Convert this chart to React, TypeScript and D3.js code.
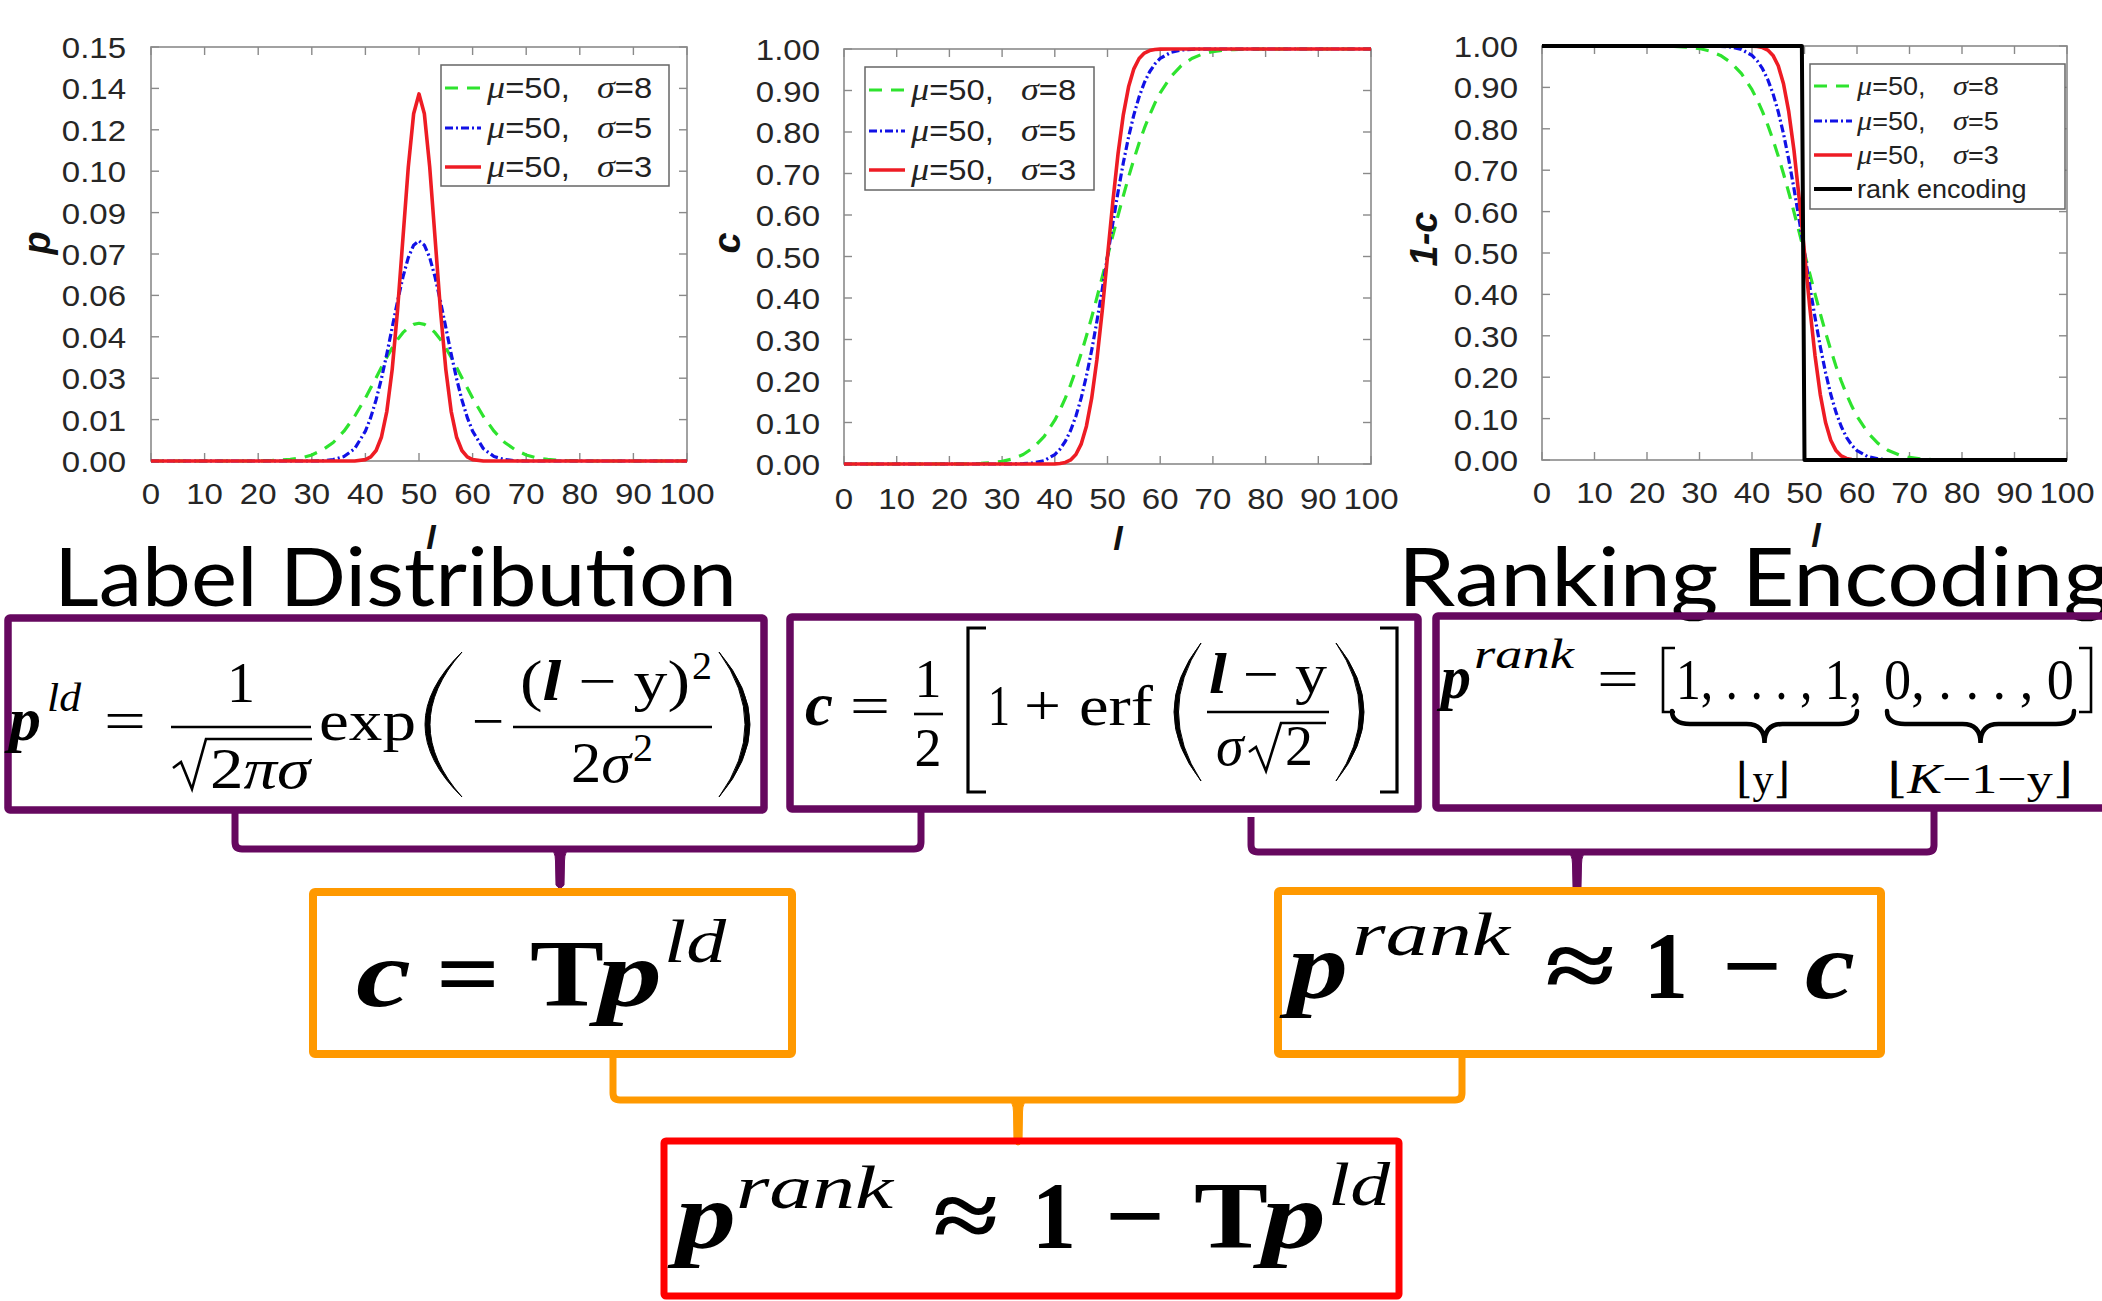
import React from 'react';
import * as d3 from 'd3';

// ---------- DATA ----------
const L = [0, 10, 20, 22, 24, 26, 28, 30, 32, 34, 36, 38, 40, 41, 42, 43, 44, 45, 46, 47, 48, 49, 50, 51, 52, 53, 54, 55, 56, 57, 58, 59, 60, 62, 64, 66, 68, 70, 72, 74, 76, 78, 80, 90, 100];

const pdfSigma8 = [0, 0, 0, 0.0001, 0.0003, 0.0006, 0.0011, 0.0022, 0.0040, 0.0067, 0.0108, 0.0162,
  0.0228, 0.0265, 0.0302, 0.0340, 0.0376, 0.0410, 0.0440, 0.0465, 0.0483, 0.0495, 0.0499, 0.0495, 0.0483, 0.0465, 0.0440, 0.0410, 0.0376, 0.0340, 0.0302, 0.0265, 0.0228,
  0.0162, 0.0108, 0.0067, 0.0040, 0.0022, 0.0011, 0.0006, 0.0003, 0.0001, 0, 0, 0];
const pdfSigma5 = [0, 0, 0, 0, 0, 0, 0, 0, 0.0001, 0.0005, 0.0016, 0.0045,
  0.0108, 0.0158, 0.0222, 0.0299, 0.0388, 0.0484, 0.0579, 0.0666, 0.0737, 0.0782, 0.0798, 0.0782, 0.0737, 0.0666, 0.0579, 0.0484, 0.0388, 0.0299, 0.0222, 0.0158, 0.0108,
  0.0045, 0.0016, 0.0005, 0.0001, 0, 0, 0, 0, 0, 0, 0, 0];
const pdfSigma3 = [0, 0, 0, 0, 0, 0, 0, 0, 0, 0, 0, 0,
  0.0005, 0.0015, 0.0038, 0.0087, 0.0180, 0.0332, 0.0547, 0.0807, 0.1065, 0.1258, 0.1330, 0.1258, 0.1065, 0.0807, 0.0547, 0.0332, 0.0180, 0.0087, 0.0038, 0.0015, 0.0005,
  0, 0, 0, 0, 0, 0, 0, 0, 0, 0, 0, 0];

const cdfSigma8 = [0, 0, 0.0001, 0.0002, 0.0006, 0.0013, 0.0030, 0.0062, 0.0122, 0.0228, 0.0401, 0.0668,
  0.1056, 0.1303, 0.1587, 0.1908, 0.2266, 0.2660, 0.3085, 0.3538, 0.4013, 0.4503, 0.5, 0.5497, 0.5987, 0.6462, 0.6915, 0.7340, 0.7734, 0.8092, 0.8413, 0.8697, 0.8944,
  0.9332, 0.9599, 0.9772, 0.9878, 0.9938, 0.9970, 0.9987, 0.9994, 0.9998, 0.9999, 1, 1];
const cdfSigma5 = [0, 0, 0, 0, 0, 0, 0, 0, 0.0002, 0.0007, 0.0026, 0.0082,
  0.0228, 0.0359, 0.0548, 0.0808, 0.1151, 0.1587, 0.2119, 0.2743, 0.3446, 0.4207, 0.5, 0.5793, 0.6554, 0.7257, 0.7881, 0.8413, 0.8849, 0.9192, 0.9452, 0.9641, 0.9772,
  0.9918, 0.9974, 0.9993, 0.9998, 1, 1, 1, 1, 1, 1, 1, 1];
const cdfSigma3 = [0, 0, 0, 0, 0, 0, 0, 0, 0, 0, 0, 0,
  0.0004, 0.0013, 0.0038, 0.0098, 0.0228, 0.0478, 0.0912, 0.1587, 0.2525, 0.3694, 0.5, 0.6306, 0.7475, 0.8413, 0.9088, 0.9522, 0.9772, 0.9902, 0.9962, 0.9987, 0.9996,
  1, 1, 1, 1, 1, 1, 1, 1, 1, 1, 1, 1];

const ccdfSigma8 = [1, 1, 0.9999, 0.9998, 0.9994, 0.9987, 0.9970, 0.9938, 0.9878, 0.9772, 0.9599, 0.9332,
  0.8944, 0.8697, 0.8413, 0.8092, 0.7734, 0.7340, 0.6915, 0.6462, 0.5987, 0.5497, 0.5, 0.4503, 0.4013, 0.3538, 0.3085, 0.2660, 0.2266, 0.1908, 0.1587, 0.1303, 0.1056,
  0.0668, 0.0401, 0.0228, 0.0122, 0.0062, 0.0030, 0.0013, 0.0006, 0.0002, 0.0001, 0, 0];
const ccdfSigma5 = [1, 1, 1, 1, 1, 1, 1, 1, 0.9998, 0.9993, 0.9974, 0.9918,
  0.9772, 0.9641, 0.9452, 0.9192, 0.8849, 0.8413, 0.7881, 0.7257, 0.6554, 0.5793, 0.5, 0.4207, 0.3446, 0.2743, 0.2119, 0.1587, 0.1151, 0.0808, 0.0548, 0.0359, 0.0228,
  0.0082, 0.0026, 0.0007, 0.0002, 0, 0, 0, 0, 0, 0, 0, 0];
const ccdfSigma3 = [1, 1, 1, 1, 1, 1, 1, 1, 1, 1, 1, 1,
  0.9996, 0.9987, 0.9962, 0.9902, 0.9772, 0.9522, 0.9088, 0.8413, 0.7475, 0.6306, 0.5, 0.3694, 0.2525, 0.1587, 0.0912, 0.0478, 0.0228, 0.0098, 0.0038, 0.0013, 0.0004,
  0, 0, 0, 0, 0, 0, 0, 0, 0, 0, 0, 0];

const rankL = [0, 49.5, 50, 100];
const rankV = [1, 1, 0, 0];

const X_TICKS = [0, 10, 20, 30, 40, 50, 60, 70, 80, 90, 100];
const PDF_TICKS = [0, 0.015, 0.03, 0.045, 0.06, 0.075, 0.09, 0.105, 0.12, 0.135, 0.15];
const PDF_TICK_LABELS = ['0.00', '0.01', '0.03', '0.04', '0.06', '0.07', '0.09', '0.10', '0.12', '0.14', '0.15'];
const CDF_TICKS = [0, 0.1, 0.2, 0.3, 0.4, 0.5, 0.6, 0.7, 0.8, 0.9, 1.0];
const CDF_TICK_LABELS = ['0.00', '0.10', '0.20', '0.30', '0.40', '0.50', '0.60', '0.70', '0.80', '0.90', '1.00'];
const MU_LABEL = '50';
const SIGMA_LABELS = ['8', '5', '3'];
const RANK_LABEL = 'rank encoding';

// ---------- STYLE ----------
const SANS = "'Liberation Sans', Arial, Helvetica, sans-serif";
const SERIF = "'Liberation Serif', 'Times New Roman', 'DejaVu Serif', serif";
const SX = 1.1;
const PURPLE = '#66085f';
const ORANGE = '#ff9900';
const RED_BOX = '#ff0000';
const STYLES = [
  { color: '#2ee32e', dash: '13,9', width: 3.2 },
  { color: '#1111e6', dash: '8,3,2,3', width: 3.2 },
  { color: '#ee1c24', dash: null, width: 3.6 },
];
const BLACK_STYLE = { color: '#000', dash: null, width: 4 };

function zip(xs, ys) { return xs.map((v, i) => [v, ys[i]]); }

function Chart(p) {
  const x = d3.scaleLinear().domain([0, 100]).range([p.x0, p.x1]);
  const y = d3.scaleLinear().domain([0, p.yMax]).range([p.y1, p.y0]);
  const line = d3.line().x(d => x(d[0])).y(d => y(d[1]));
  const fc = '#8a8a8a';
  const lg = p.legend;
  const fs = lg.fs;
  return (
    <g>
      <rect x={p.x0} y={p.y0} width={p.x1 - p.x0} height={p.y1 - p.y0} fill="#fff" stroke={fc} strokeWidth={1.6} />
      {X_TICKS.map(t => (
        <g key={'x' + t}>
          <line x1={x(t)} x2={x(t)} y1={p.y1} y2={p.y1 - 8} stroke={fc} strokeWidth={1.4} />
          <line x1={x(t)} x2={x(t)} y1={p.y0} y2={p.y0 + 8} stroke={fc} strokeWidth={1.4} />
          <text transform={`translate(${x(t)},${p.xTickBase}) scale(${SX},1)`} textAnchor="middle" fontFamily={SANS} fontSize={30} fill="#262626">{t}</text>
        </g>
      ))}
      {p.yTicks.map((t, i) => (
        <g key={'y' + i}>
          <line x1={p.x0} x2={p.x0 + 8} y1={y(t)} y2={y(t)} stroke={fc} strokeWidth={1.4} />
          <line x1={p.x1} x2={p.x1 - 8} y1={y(t)} y2={y(t)} stroke={fc} strokeWidth={1.4} />
          <text transform={`translate(${p.yTickRight},${y(t) + 11}) scale(${SX},1)`} textAnchor="end" fontFamily={SANS} fontSize={30} fill="#262626">{p.yTickLabels[i]}</text>
        </g>
      ))}
      {p.series.map((s, i) => (
        <path key={'s' + i} d={line(zip(s.xs, s.vals))} fill="none" stroke={s.style.color} strokeWidth={s.style.width}
          strokeDasharray={s.style.dash || undefined} strokeLinejoin="round" />
      ))}
      <rect x={lg.x} y={lg.y} width={lg.w} height={lg.h} fill="#fff" stroke="#666" strokeWidth={1.5} />
      {p.series.map((s, i) => {
        const ry = lg.rows[i];
        const by = ry + fs * 0.36;
        return (
          <g key={'l' + i}>
            <line x1={lg.sx0} x2={lg.sx1} y1={ry} y2={ry} stroke={s.style.color} strokeWidth={s.style.width} strokeDasharray={s.style.dash || undefined} />
            {s.sigma ? (
              <g>
                <text transform={`translate(${lg.muX},${by}) scale(${lg.sx},1)`} fontFamily={SANS} fontSize={fs} fill="#222">
                  <tspan fontFamily={SERIF} fontStyle="italic" fontSize={fs + 3}>μ</tspan>={MU_LABEL},
                </text>
                <text transform={`translate(${lg.sigmaX},${by}) scale(${lg.sx},1)`} fontFamily={SANS} fontSize={fs} fill="#222">
                  <tspan fontFamily={SERIF} fontStyle="italic" fontSize={fs + 3}>σ</tspan>={s.sigma}
                </text>
              </g>
            ) : (
              <text transform={`translate(${lg.muX},${by}) scale(${lg.sx},1)`} fontFamily={SANS} fontSize={fs} fill="#222">{s.label}</text>
            )}
          </g>
        );
      })}
      <text transform={`translate(${p.ylabelX},${p.ylabelY}) rotate(-90)`} textAnchor="middle" dy="0.35em" fontFamily={SANS} fontWeight="bold" fontStyle="italic" fontSize={p.ylabelSize} fill="#111">{p.ylabel}</text>
      <text x={p.xlabelX} y={p.xlabelY} textAnchor="middle" dy="0.35em" fontFamily={SANS} fontWeight="bold" fontStyle="italic" fontSize={34} fill="#111">l</text>
    </g>
  );
}

function Tk({ x, y, t, size, w, b, i, anchor }) {
  return (
    <text x={x} y={y} fontFamily={SERIF} fontSize={size} fontWeight={b ? 'bold' : 'normal'} fontStyle={i ? 'italic' : 'normal'}
      textLength={w} lengthAdjust={w ? 'spacingAndGlyphs' : undefined} textAnchor={anchor || 'start'} fill="#000">{t}</text>
  );
}

function lparen(a, b, yt, yb, t) {
  const ym = (yt + yb) / 2;
  return `M${b},${yt} Q${2 * a - b},${ym} ${b},${yb} Q${2 * a + 2 * t - b},${ym} ${b},${yt} Z`;
}
function rparen(a, b, yt, yb, t) {
  const ym = (yt + yb) / 2;
  return `M${a},${yt} Q${2 * b - a},${ym} ${a},${yb} Q${2 * b - 2 * t - a},${ym} ${a},${yt} Z`;
}
function underbrace(xl, xr, yt) {
  const xc = (xl + xr) / 2, e = 13, tip = 32, r = 18;
  const ym = yt + e;
  return `M${xl},${yt} Q${xl},${ym} ${xl + r},${ym} L${xc - r},${ym} Q${xc},${ym} ${xc},${yt + tip} Q${xc},${ym} ${xc + r},${ym} L${xr - r},${ym} Q${xr},${ym} ${xr},${yt}`;
}

function Connector({ xl, ylTop, xr, yrTop, yBar, xc, yTip, color }) {
  const r = 7;
  const d = `M${xl},${ylTop} L${xl},${yBar - r} Q${xl},${yBar} ${xl + r},${yBar} L${xr - r},${yBar} Q${xr},${yBar} ${xr},${yBar - r} L${xr},${yrTop}`;
  const tip = `M${xc - 11},${yBar} Q${xc - 4.5},${yBar + 1} ${xc - 4.5},${yBar + 12} L${xc - 4},${yTip - 4} Q${xc},${yTip + 2} ${xc + 4},${yTip - 4} L${xc + 4.5},${yBar + 12} Q${xc + 4.5},${yBar + 1} ${xc + 11},${yBar} Z`;
  return (
    <g>
      <path d={d} fill="none" stroke={color} strokeWidth={7} strokeLinejoin="round" />
      <path d={tip} fill={color} stroke={color} strokeWidth={1} />
    </g>
  );
}

function Formulas() {
  const k = '#000';
  return (
    <g>
      {/* Box 1: p^ld */}
      <Tk x={9} y={740} t="p" size={62} b i w={32} />
      <Tk x={47} y={711} t="ld" size={40} i w={34} />
      <Tk x={104} y={740} t="=" size={58} w={42} />
      <Tk x={241} y={702} t="1" size={56} anchor="middle" />
      <line x1={171} x2={311} y1={727} y2={727} stroke={k} strokeWidth={2.6} />
      <path d="M173,768 L181,762 L192,789 L206,739 L312,739" stroke={k} strokeWidth={2.6} fill="none" strokeLinejoin="miter" />
      <text x={210} y={788} fontFamily={SERIF} fontSize={56} textLength={100} lengthAdjust="spacingAndGlyphs">2<tspan fontStyle="italic">πσ</tspan></text>
      <Tk x={319} y={740} t="exp" size={58} w={97} />
      <path d={lparen(425, 462, 652, 797, 5)} fill={k} stroke={k} strokeWidth={1} />
      <Tk x={472} y={740} t="−" size={56} w={32} />
      <text x={520} y={700} fontFamily={SERIF} fontSize={56} textLength={170} lengthAdjust="spacingAndGlyphs">(<tspan fontWeight="bold" fontStyle="italic">l</tspan> − y)</text>
      <Tk x={692} y={679} t="2" size={40} />
      <line x1={513} x2={712} y1={727} y2={727} stroke={k} strokeWidth={2.6} />
      <text x={571} y={782} fontFamily={SERIF} fontSize={56} textLength={60} lengthAdjust="spacingAndGlyphs">2<tspan fontStyle="italic">σ</tspan></text>
      <Tk x={633} y={761} t="2" size={40} />
      <path d={rparen(719, 750, 652, 797, 5)} fill={k} stroke={k} strokeWidth={1} />

      {/* Box 2: c */}
      <Tk x={805} y={725} t="c" size={62} b i w={28} />
      <Tk x={850} y={725} t="=" size={58} w={40} />
      <Tk x={928} y={697} t="1" size={54} anchor="middle" />
      <line x1={914} x2={943} y1={714} y2={714} stroke={k} strokeWidth={2.6} />
      <Tk x={928} y={766} t="2" size={54} anchor="middle" />
      <path d="M986,628 L968,628 L968,792 L986,792" stroke={k} strokeWidth={3.2} fill="none" />
      <Tk x={988} y={725} t="1" size={58} w={22} />
      <Tk x={1024} y={725} t="+" size={58} w={37} />
      <Tk x={1079} y={725} t="erf" size={58} w={74} />
      <path d={lparen(1174, 1201, 643, 781, 4.5)} fill={k} stroke={k} strokeWidth={1} />
      <text x={1209} y={693} fontFamily={SERIF} fontSize={56} textLength={118} lengthAdjust="spacingAndGlyphs"><tspan fontWeight="bold" fontStyle="italic">l</tspan> − y</text>
      <line x1={1207} x2={1329} y1={712} y2={712} stroke={k} strokeWidth={2.6} />
      <Tk x={1216} y={765} t="σ" size={56} i />
      <path d="M1249,752 L1256,747 L1266,771 L1281,723 L1326,723" stroke={k} strokeWidth={2.6} fill="none" />
      <Tk x={1285} y={765} t="2" size={56} />
      <path d={rparen(1336, 1364, 643, 781, 4.5)} fill={k} stroke={k} strokeWidth={1} />
      <path d="M1380,628 L1397,628 L1397,792 L1380,792" stroke={k} strokeWidth={3.2} fill="none" />

      {/* Box 3: p^rank */}
      <Tk x={1441} y={698} t="p" size={62} b i w={30} />
      <Tk x={1474} y={668} t="rank" size={42} i w={100} />
      <Tk x={1597} y={698} t="=" size={58} w={42} />
      <path d="M1675,648 L1663,648 L1663,712 L1675,712" stroke={k} strokeWidth={2.6} fill="none" />
      <Tk x={1676} y={699} t="1, . . . , 1," size={58} w={186} />
      <Tk x={1884} y={699} t="0, . . . , 0" size={58} w={190} />
      <path d="M2079,648 L2091,648 L2091,712 L2079,712" stroke={k} strokeWidth={2.6} fill="none" />
      <path d={underbrace(1672, 1857, 711)} stroke={k} strokeWidth={4.5} fill="none" strokeLinecap="round" />
      <path d={underbrace(1887, 2074, 711)} stroke={k} strokeWidth={4.5} fill="none" strokeLinecap="round" />
      <text x={1763} y={793} textAnchor="middle" fontFamily={SERIF} fontSize={42}>⌊y⌋</text>
      <text x={1980} y={793} textAnchor="middle" fontFamily={SERIF} fontSize={42} textLength={186} lengthAdjust="spacingAndGlyphs">⌊<tspan fontStyle="italic">K</tspan>−1−y⌋</text>

      {/* Box 4: c = T p^ld */}
      <Tk x={356} y={1006} t="c" size={96} b i w={55} />
      <Tk x={436} y={1006} t="=" size={96} b w={64} />
      <Tk x={530} y={1006} t="T" size={96} b w={74} />
      <Tk x={598} y={1006} t="p" size={96} b i w={64} />
      <Tk x={664} y={962} t="ld" size={62} i w={62} />

      {/* Box 5: p^rank ≈ 1 − c */}
      <Tk x={1288} y={998} t="p" size={96} b i w={60} />
      <Tk x={1352} y={955} t="rank" size={62} i w={158} />
      <Tk x={1545} y={998} t="≈" size={96} b w={70} />
      <Tk x={1644} y={998} t="1" size={96} b w={44} />
      <Tk x={1722} y={998} t="−" size={96} b w={60} />
      <Tk x={1805} y={998} t="c" size={96} b i w={50} />

      {/* Red box: p^rank ≈ 1 − T p^ld */}
      <Tk x={676} y={1248} t="p" size={96} b i w={60} />
      <Tk x={736} y={1208} t="rank" size={62} i w={157} />
      <Tk x={933} y={1248} t="≈" size={96} b w={65} />
      <Tk x={1032} y={1248} t="1" size={96} b w={44} />
      <Tk x={1105} y={1248} t="−" size={96} b w={60} />
      <Tk x={1194} y={1248} t="T" size={96} b w={74} />
      <Tk x={1262} y={1248} t="p" size={96} b i w={64} />
      <Tk x={1328} y={1205} t="ld" size={62} i w={62} />
    </g>
  );
}

export default function App() {
  const chart1Series = [
    { xs: L, vals: pdfSigma8, style: STYLES[0], sigma: SIGMA_LABELS[0] },
    { xs: L, vals: pdfSigma5, style: STYLES[1], sigma: SIGMA_LABELS[1] },
    { xs: L, vals: pdfSigma3, style: STYLES[2], sigma: SIGMA_LABELS[2] },
  ];
  const chart2Series = [
    { xs: L, vals: cdfSigma8, style: STYLES[0], sigma: SIGMA_LABELS[0] },
    { xs: L, vals: cdfSigma5, style: STYLES[1], sigma: SIGMA_LABELS[1] },
    { xs: L, vals: cdfSigma3, style: STYLES[2], sigma: SIGMA_LABELS[2] },
  ];
  const chart3Series = [
    { xs: L, vals: ccdfSigma8, style: STYLES[0], sigma: SIGMA_LABELS[0] },
    { xs: L, vals: ccdfSigma5, style: STYLES[1], sigma: SIGMA_LABELS[1] },
    { xs: L, vals: ccdfSigma3, style: STYLES[2], sigma: SIGMA_LABELS[2] },
    { xs: rankL, vals: rankV, style: BLACK_STYLE, label: RANK_LABEL },
  ];
  return (
    <svg width={2102} height={1301} viewBox="0 0 2102 1301" style={{ position: 'absolute', left: 0, top: 0, background: '#fff' }}>
      <rect x={0} y={0} width={2102} height={1301} fill="#fff" />
      <Chart x0={151} x1={687} y0={47} y1={461} yMax={0.15} yTicks={PDF_TICKS} yTickLabels={PDF_TICK_LABELS}
        series={chart1Series} xTickBase={504} yTickRight={126}
        legend={{ x: 441, y: 65, w: 228, h: 121, rows: [88, 128, 167], sx0: 445, sx1: 481, muX: 487, sigmaX: 597, fs: 29, sx: 1.13 }}
        ylabel="p" ylabelSize={38} ylabelX={37} ylabelY={243} xlabelX={431} xlabelY={537} />
      <Chart x0={844} x1={1371} y0={49} y1={464} yMax={1} yTicks={CDF_TICKS} yTickLabels={CDF_TICK_LABELS}
        series={chart2Series} xTickBase={509} yTickRight={820}
        legend={{ x: 865, y: 67, w: 229, h: 123, rows: [90, 131, 170], sx0: 869, sx1: 905, muX: 911, sigmaX: 1021, fs: 29, sx: 1.13 }}
        ylabel="c" ylabelSize={38} ylabelX={727} ylabelY={243} xlabelX={1118} xlabelY={538} />
      <Chart x0={1542} x1={2067} y0={46} y1={460} yMax={1} yTicks={CDF_TICKS} yTickLabels={CDF_TICK_LABELS}
        series={chart3Series} xTickBase={503} yTickRight={1518}
        legend={{ x: 1810, y: 64, w: 255, h: 145, rows: [86, 121, 155, 189], sx0: 1814, sx1: 1852, muX: 1857, sigmaX: 1953, fs: 25, sx: 1.08 }}
        ylabel="1-c" ylabelSize={38} ylabelX={1424} ylabelY={239} xlabelX={1816} xlabelY={535} />

      <text x={54} y={606} fontFamily="Lato, 'Open Sans', sans-serif" fontSize={82} textLength={683} lengthAdjust="spacingAndGlyphs" fill="#000">Label Distribution</text>
      <text x={1398} y={606} fontFamily="Lato, 'Open Sans', sans-serif" fontSize={82} textLength={713} lengthAdjust="spacingAndGlyphs" fill="#000">Ranking Encoding</text>

      <Connector xl={235} ylTop={812} xr={921} yrTop={812} yBar={849} xc={560} yTip={889} color={PURPLE} />
      <Connector xl={1251} ylTop={817} xr={1934} yrTop={808} yBar={852} xc={1577} yTip={891} color={PURPLE} />
      <Connector xl={613} ylTop={1056} xr={1462} yrTop={1055} yBar={1100} xc={1018} yTip={1146} color={ORANGE} />

      <rect x={8} y={618} width={756} height={192} fill="none" stroke={PURPLE} strokeWidth={7.5} rx={2} />
      <rect x={790} y={617} width={628} height={192} fill="none" stroke={PURPLE} strokeWidth={7.5} rx={2} />
      <rect x={1436} y={616} width={700} height={192} fill="none" stroke={PURPLE} strokeWidth={7.5} rx={2} />
      <rect x={313} y={892} width={479} height={162} fill="none" stroke={ORANGE} strokeWidth={8} rx={2} />
      <rect x={1278} y={891} width={603} height={163} fill="none" stroke={ORANGE} strokeWidth={8} rx={2} />
      <rect x={664} y={1141} width={735} height={155} fill="none" stroke={RED_BOX} strokeWidth={7} rx={2} />

      <Formulas />
    </svg>
  );
}
